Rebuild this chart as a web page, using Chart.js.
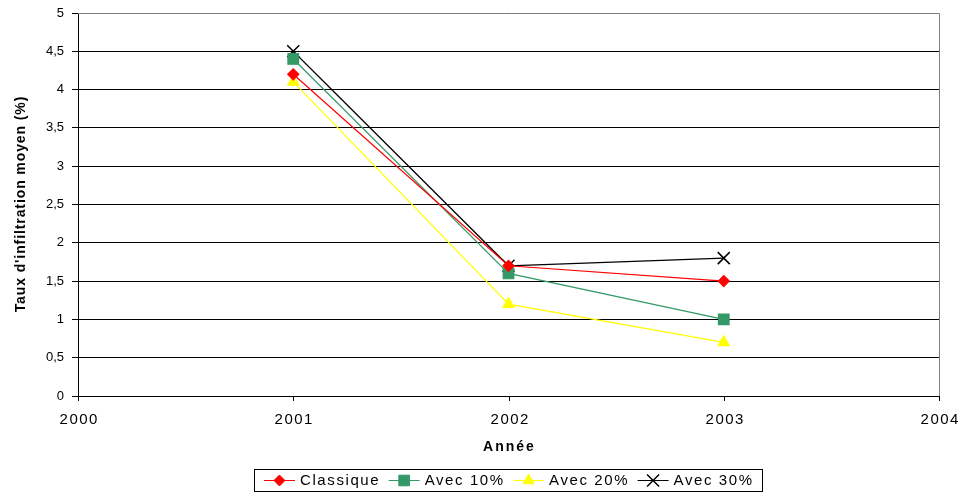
<!DOCTYPE html>
<html>
<head>
<meta charset="utf-8">
<script src="https://cdn.jsdelivr.net/npm/chart.js@4"></script>
<style>
  body { margin: 0; background: #fff; }
  #wrap { width: 959px; height: 493px; }
</style>
</head>
<body>
<div id="wrap"><canvas id="chart" width="959" height="493"></canvas></div>
<script>
// data
var years = [2001, 2002, 2003];
var xTicks = [2000, 2001, 2002, 2003, 2004];
var classique = [4.2, 1.7, 1.5];
var avec10 = [4.4, 1.6, 1.0];
var avec20 = [4.1, 1.2, 0.7];
var avec30 = [4.5, 1.7, 1.8];
var seriesNames = ['Classique', 'Avec 10%', 'Avec 20%', 'Avec 30%'];
var xTitle = 'Année';
var yTitle = "Taux d'infiltration moyen (%)";

function pts(vals) {
  return years.map(function(y, i) { return { x: y, y: vals[i] }; });
}

var FONT = '"Liberation Sans", Arial, sans-serif';

// text with excel-ish letter spacing, centered on x
function spacedText(ctx, txt, cx, cy, font, spacing) {
  ctx.font = font;
  ctx.letterSpacing = spacing + 'px';
  var w = ctx.measureText(txt).width - spacing;
  ctx.textAlign = 'left';
  ctx.textBaseline = 'middle';
  ctx.fillText(txt, cx - w / 2, cy);
  ctx.letterSpacing = '0px';
}

function marker(ctx, ds, x, y) {
  ctx.fillStyle = ds.pointBackgroundColor;
  ctx.strokeStyle = ds.pointBorderColor;
  ctx.lineWidth = ds.pointBorderWidth || 1;
  Chart.helpers.drawPoint(ctx, {
    pointStyle: ds.pointStyle,
    radius: ds.pointRadius,
    borderWidth: ds.pointBorderWidth || 1,
    rotation: 0
  }, x, y);
}

var extras = {
  id: 'extras',
  afterDraw: function(chart) {
    var ctx = chart.ctx;
    var a = chart.chartArea;
    var xs = chart.scales.x;
    ctx.save();

    // plot frame top/right
    ctx.strokeStyle = '#808080';
    ctx.lineWidth = 1;
    ctx.beginPath();
    ctx.moveTo(a.left, a.top + 0.5);
    ctx.lineTo(a.right + 0.5, a.top + 0.5);
    ctx.lineTo(a.right + 0.5, a.bottom);
    ctx.stroke();

    // x tick marks + labels
    ctx.fillStyle = '#000';
    ctx.strokeStyle = '#000';
    xTicks.forEach(function(v) {
      var px = Math.round(xs.getPixelForValue(v)) + 0.5;
      ctx.beginPath();
      ctx.moveTo(px, a.bottom);
      ctx.lineTo(px, a.bottom + 5);
      ctx.stroke();
      spacedText(ctx, String(v), px, 420, '15px ' + FONT, 1.5);
    });

    // axis titles
    spacedText(ctx, xTitle, (a.left + a.right) / 2, 447, 'bold 14px ' + FONT, 2);
    ctx.save();
    ctx.translate(21, (a.top + a.bottom) / 2);
    ctx.rotate(-Math.PI / 2);
    spacedText(ctx, yTitle, 0, 0, 'bold 14px ' + FONT, 0.9);
    ctx.restore();

    // legend box
    var sets = chart.data.datasets;
    var symW = 31, gap = 5, itemGap = 10, sp = 1.6;
    var lf = '15px ' + FONT;
    ctx.font = lf;
    ctx.letterSpacing = sp + 'px';
    var widths = sets.map(function(ds) { return ctx.measureText(ds.label).width - sp; });
    ctx.letterSpacing = '0px';
    var total = 0;
    widths.forEach(function(w) { total += symW + gap + w; });
    total += itemGap * (sets.length - 1);
    var boxL = 254, boxR = 762, boxT = 469, boxB = 491;
    ctx.strokeStyle = '#000';
    ctx.lineWidth = 1;
    ctx.strokeRect(boxL + 0.5, boxT + 0.5, boxR - boxL, boxB - boxT);
    var x = (boxL + boxR) / 2 - total / 2;
    var cy = (boxT + boxB) / 2 + 0.5;
    sets.forEach(function(ds, i) {
      ctx.strokeStyle = ds.borderColor;
      ctx.lineWidth = 1;
      ctx.beginPath();
      ctx.moveTo(x, cy);
      ctx.lineTo(x + symW, cy);
      ctx.stroke();
      marker(ctx, ds, x + symW / 2, cy);
      x += symW + gap;
      ctx.fillStyle = '#000';
      spacedText(ctx, ds.label, x + widths[i] / 2, cy, lf, sp);
      x += widths[i] + itemGap;
    });
    ctx.restore();
  }
};

var ctx = document.getElementById('chart').getContext('2d');
new Chart(ctx, {
  type: 'scatter',
  data: {
    datasets: [
      { label: seriesNames[0], data: pts(classique), showLine: true,
        borderColor: '#FF0000', borderWidth: 1.2,
        pointStyle: 'rectRot', pointRadius: 5.5,
        pointBackgroundColor: '#FF0000', pointBorderColor: '#FF0000' },
      { label: seriesNames[1], data: pts(avec10), showLine: true,
        borderColor: '#339966', borderWidth: 1.2,
        pointStyle: 'rect', pointRadius: 7.5,
        pointBackgroundColor: '#339966', pointBorderColor: '#339966' },
      { label: seriesNames[2], data: pts(avec20), showLine: true,
        borderColor: '#FFFF00', borderWidth: 1.2,
        pointStyle: 'triangle', pointRadius: 6.5,
        pointBackgroundColor: '#FFFF00', pointBorderColor: '#FFFF00' },
      { label: seriesNames[3], data: pts(avec30), showLine: true,
        borderColor: '#000000', borderWidth: 1.2,
        pointStyle: 'crossRot', pointRadius: 8.5, pointBorderWidth: 1.5,
        pointBackgroundColor: '#000000', pointBorderColor: '#000000' }
    ]
  },
  options: {
    responsive: false,
    animation: false,
    layout: { padding: { top: 13, right: 20, left: 0, bottom: 0 } },
    plugins: {
      legend: { display: false },
      tooltip: { enabled: false }
    },
    scales: {
      x: {
        type: 'linear',
        min: 2000, max: 2004,
        afterFit: function(s) { s.height = 97; },
        ticks: { display: false, stepSize: 1 },
        grid: { display: false },
        border: { color: '#000' }
      },
      y: {
        min: 0, max: 5,
        afterFit: function(s) { s.width = 78; s.paddingTop = 0; s.paddingBottom = 0; },
        ticks: { stepSize: 0.5, color: '#000', font: { family: FONT, size: 13 },
                 padding: 8,
                 callback: function(v) { return String(v).replace('.', ','); } },
        grid: { color: '#000', tickLength: 6 },
        border: { color: '#000' }
      }
    }
  },
  plugins: [extras]
});
</script>
</body>
</html>
